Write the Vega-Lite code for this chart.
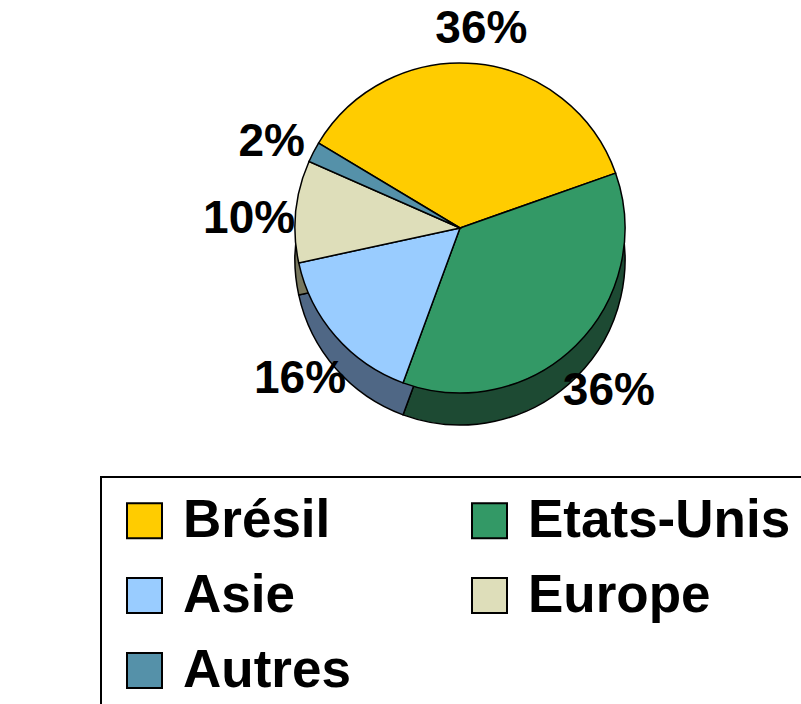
{
  "$schema": "https://vega.github.io/schema/vega-lite/v6.json",
  "width": 801,
  "height": 704,
  "autosize": "none",
  "padding": 0,
  "background": "white",
  "config": {"view": {"stroke": null}, "font": "Liberation Sans"},
  "data": {
    "values": [
      {"region": "Brésil", "share": 36, "label": "36%", "rank": 1},
      {"region": "Etats-Unis", "share": 36, "label": "36%", "rank": 2},
      {"region": "Asie", "share": 16, "label": "16%", "rank": 3},
      {"region": "Europe", "share": 10, "label": "10%", "rank": 4},
      {"region": "Autres", "share": 2, "label": "2%", "rank": 5}
    ]
  },
  "layer": [
    {
      "mark": {"type": "arc", "outerRadius": 165, "stroke": "black", "strokeWidth": 1.5},
      "encoding": {
        "theta": {"field": "share", "type": "quantitative", "stack": true, "scale": {"range": [-1.03, 5.2532]}},
        "order": {"field": "rank", "type": "quantitative"},
        "color": {
          "field": "region", "type": "nominal",
          "scale": {"domain": ["Brésil", "Etats-Unis", "Asie", "Europe", "Autres"], "range": ["#806600", "#1D4A33", "#4F6785", "#77775E", "#2E5566"]},
          "legend": null
        },
        "x": {"value": 460},
        "y": {"value": 260}
      }
    },
    {
      "mark": {"type": "arc", "outerRadius": 165, "stroke": "black", "strokeWidth": 1.5},
      "encoding": {
        "theta": {"field": "share", "type": "quantitative", "stack": true},
        "order": {"field": "rank", "type": "quantitative"},
        "color": {
          "field": "region", "type": "nominal",
          "scale": {"domain": ["Brésil", "Etats-Unis", "Asie", "Europe", "Autres"], "range": ["#FFCC00", "#339966", "#99CCFF", "#DEDEBA", "#5591A9"]},
          "legend": {
            "orient": "none", "legendX": 101, "legendY": 477,
            "title": null, "columns": 2, "direction": "horizontal", "gridAlign": "each",
            "symbolType": "square", "symbolSize": 1225,
            "symbolStrokeColor": "black", "symbolStrokeWidth": 2, "symbolOpacity": 1,
            "labelFont": "Liberation Sans", "labelFontWeight": "bold", "labelFontSize": 53,
            "labelColor": "black", "labelOffset": 12, "labelLimit": 0,
            "columnPadding": 112, "rowPadding": 21, "padding": 17,
            "strokeColor": "black",
            "encode": {"legend": {"update": {"strokeWidth": {"value": 2}}}}
          }
        },
        "x": {"value": 460},
        "y": {"value": 228}
      }
    },
    {
      "mark": {"type": "text", "radius": 212, "font": "Liberation Sans", "fontWeight": "bold", "fontSize": 46, "color": "black"},
      "encoding": {
        "theta": {"field": "share", "type": "quantitative", "stack": true},
        "order": {"field": "rank", "type": "quantitative"},
        "text": {"field": "label", "type": "nominal"},
        "x": {"value": 460},
        "y": {"value": 240}
      }
    }
  ],
  "resolve": {"scale": {"color": "independent"}}
}
